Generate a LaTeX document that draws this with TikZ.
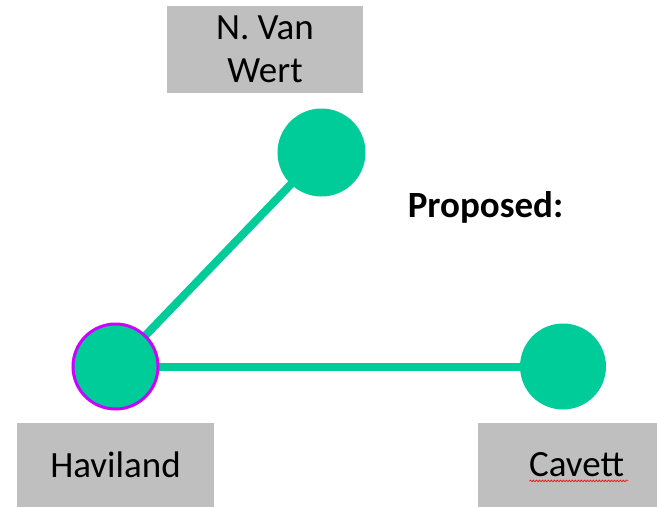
\documentclass[tikz,border=0pt]{standalone}
\usepackage{fontspec}
\setmainfont{Carlito}
\usepackage{tikz}
\usetikzlibrary{calc, backgrounds, decorations.pathmorphing}

\definecolor{sitegreen}{RGB}{0,204,153}
\definecolor{sitemag}{RGB}{204,0,255}
\definecolor{tagGray}{RGB}{191,191,191}

\begin{document}
\begin{tikzpicture}[
  x=1pt, y=-1pt,
  font=\fontsize{37}{43}\selectfont,
  site/.style ={circle, fill=sitegreen, inner sep=0pt, minimum size=88pt},
  hub/.style  ={site, draw=sitemag, line width=3pt, minimum size=85pt},
  tag/.style  ={rectangle, fill=tagGray, align=center, inner sep=0pt, minimum height=84pt},
  link/.style ={draw=sitegreen, line width=8pt}
  ]
  \useasboundingbox (0,0) rectangle (657,507);

  % tags
  \node[tag, minimum width=196pt, minimum height=87pt] (vwtag) at (265,49.5) {N. Van\\Wert};
  \node[tag, minimum width=197pt] (havtag) at (115.5,465) {Haviland};
  \node[tag, minimum width=179pt] (cavtag) at (567.5,465) {\hspace*{18pt}Cavett};
  \node[anchor=base, font=\fontsize{37}{43}\selectfont\bfseries] (prop) at (485.5,217) {Proposed:};

  % sites
  \node[site] (vw)  at (321.5,152.5) {};
  \node[site, minimum size=86pt] (cav) at (563,366.5) {};
  \node[hub]  (hav) at (115.5,366.5) {};

  \begin{pgfonlayer}{background}
    \path[link] (hav.center) -- (vw.center);
    \path[link] (hav.center) -- (cav.center);
  \end{pgfonlayer}

  % spell-check mark
  \draw[red, line width=0.6pt, decorate, decoration={snake, amplitude=0.8pt, segment length=3pt}]
    ($(cavtag.base)+(-38,4)$) -- ($(cavtag.base)+(61,4)$);
\end{tikzpicture}
\end{document}
